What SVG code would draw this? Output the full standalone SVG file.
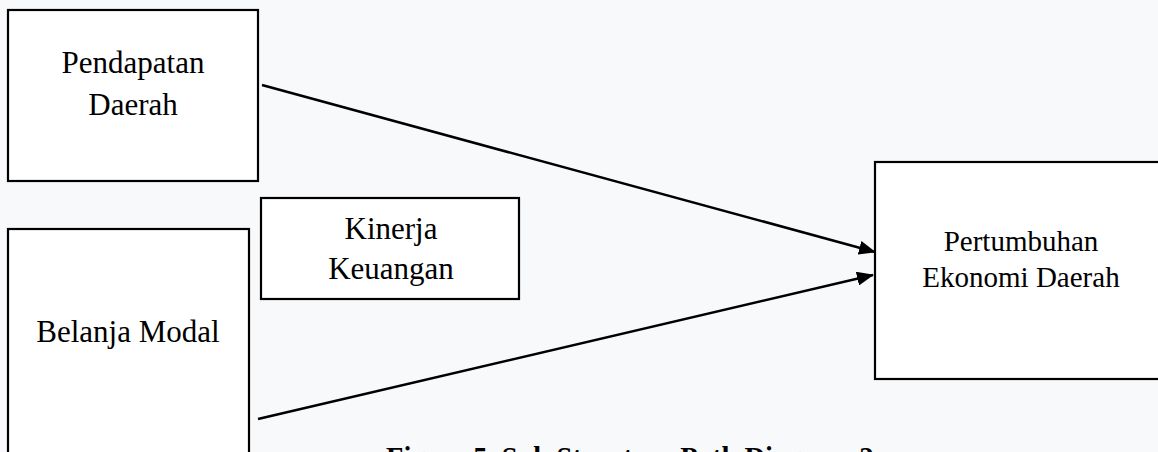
<svg xmlns="http://www.w3.org/2000/svg" width="1158" height="452" viewBox="0 0 1158 452">
<style>
.box{fill:#ffffff;stroke:#000000;stroke-width:2.2}
.t{font-family:"Liberation Serif","Times New Roman",serif;font-size:31px;fill:#000000;text-anchor:middle}
.ts{font-family:"Liberation Serif","Times New Roman",serif;font-size:29px;fill:#000000;text-anchor:middle}
.cap{font-family:"Liberation Serif","Times New Roman",serif;font-size:28.5px;font-weight:bold;fill:#000000}
.edge{stroke:#000000;stroke-width:2.6;fill:none}
</style>
<defs>
<marker id="arrow" markerUnits="userSpaceOnUse" markerWidth="18" markerHeight="14" refX="16" refY="7" orient="auto">
<path d="M0,0 L17,7 L0,14 Z" fill="#000000"/>
</marker>
</defs>
<rect width="1158" height="452" fill="#f8f9fa"/>
<g id="node-pendapatan">
<rect class="box" x="8" y="10" width="250" height="171"/>
<text class="t" x="133" y="73">Pendapatan</text>
<text class="t" x="133" y="115">Daerah</text>
</g>
<g id="node-kinerja">
<rect class="box" x="261" y="198" width="258" height="101"/>
<text class="t" x="391" y="239">Kinerja</text>
<text class="t" x="391" y="279">Keuangan</text>
</g>
<g id="node-belanja">
<rect class="box" x="8" y="229" width="241" height="240"/>
<text class="t" x="128" y="342">Belanja Modal</text>
</g>
<g id="node-pertumbuhan">
<rect class="box" x="875" y="162" width="300" height="217"/>
<text class="ts" x="1021" y="251">Pertumbuhan</text>
<text class="ts" x="1021" y="287">Ekonomi Daerah</text>
</g>
<g id="connectors">
<line class="edge" x1="262" y1="85" x2="875" y2="252" marker-end="url(#arrow)"/>
<line class="edge" x1="258" y1="419" x2="873" y2="275" marker-end="url(#arrow)"/>
</g>
<text class="cap" x="386" y="467">Figure 5. Sub Structure Path Diagram 2</text>
</svg>
